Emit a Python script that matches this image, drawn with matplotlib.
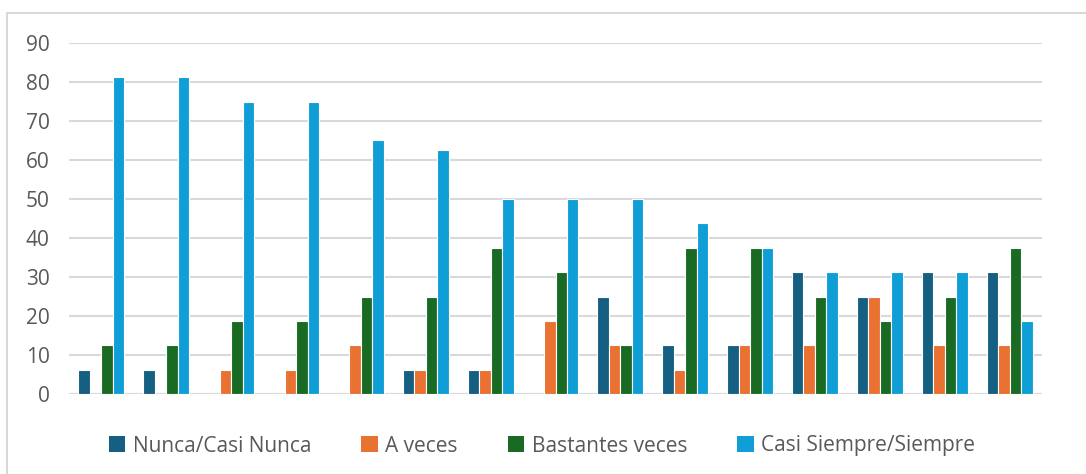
import matplotlib
matplotlib.use("Agg")
import matplotlib.pyplot as plt
import numpy as np
from matplotlib.patches import Rectangle, Patch

series_names = ["Nunca/Casi Nunca", "A veces", "Bastantes veces", "Casi Siempre/Siempre"]
nunca = [6.25, 6.25, 0, 0, 0, 6.25, 6.25, 0, 25, 12.5, 12.5, 31.25, 25, 31.25, 31.25]
a_veces = [0, 0, 6.25, 6.25, 12.5, 6.25, 6.25, 18.75, 12.5, 6.25, 12.5, 12.5, 25, 12.5, 12.5]
bastantes = [12.5, 12.5, 18.75, 18.75, 25, 25, 37.5, 31.25, 12.5, 37.5, 37.5, 25, 18.75, 25, 37.5]
siempre = [81.25, 81.25, 75, 75, 65, 62.5, 50, 50, 50, 43.75, 37.5, 31.25, 31.25, 31.25, 18.75]
colors = ["#156082", "#E97132", "#196B24", "#0F9ED5"]
yticks = [0, 10, 20, 30, 40, 50, 60, 70, 80, 90]

plt.rcParams['font.family'] = ['Open Sans', 'DejaVu Sans']

fig = plt.figure(figsize=(10.86, 4.74), dpi=100)
fig.patches.append(Rectangle((7/1086, -0.1), 1.2, 1 - 13/474 + 0.1, transform=fig.transFigure,
                             facecolor='white', edgecolor='#D9D9D9', linewidth=1.5, zorder=-10))
ax = fig.add_axes([69/1086, 1 - 394/474, (1042 - 69)/1086, (394 - 43)/474])
ax.set_facecolor('none')

n = len(nunca)
x = np.arange(n)
w = 0.177
data = [nunca, a_veces, bastantes, siempre]
for i, (vals, c) in enumerate(zip(data, colors)):
    ax.bar(x + (i - 1.5) * w, vals, width=w, color=c, edgecolor='white', linewidth=0.8, zorder=3)

ax.set_xlim(-0.5, n - 0.5)
ax.set_ylim(0, 90)
ax.set_yticks(yticks)
ax.set_yticklabels([str(t) for t in yticks], fontsize=15, color='#595959')
ax.set_xticks([])
ax.tick_params(axis='y', length=0, pad=14)
ax.grid(axis='y', color='#D9D9D9', linewidth=1.5, zorder=0)
for s in ax.spines.values():
    s.set_visible(False)
ax.axhline(0, color='#D9D9D9', linewidth=1.5, zorder=2)

handles = [Patch(facecolor=c, edgecolor='none') for c in colors]
fig.legend(handles, series_names, loc='center', bbox_to_anchor=(0.499, 1 - 446/474), ncol=4,
           frameon=False, fontsize=15, labelcolor='#595959', handlelength=0.8, handleheight=0.8,
           handletextpad=0.35, columnspacing=2.4)

fig.savefig("out.png", dpi=100)
